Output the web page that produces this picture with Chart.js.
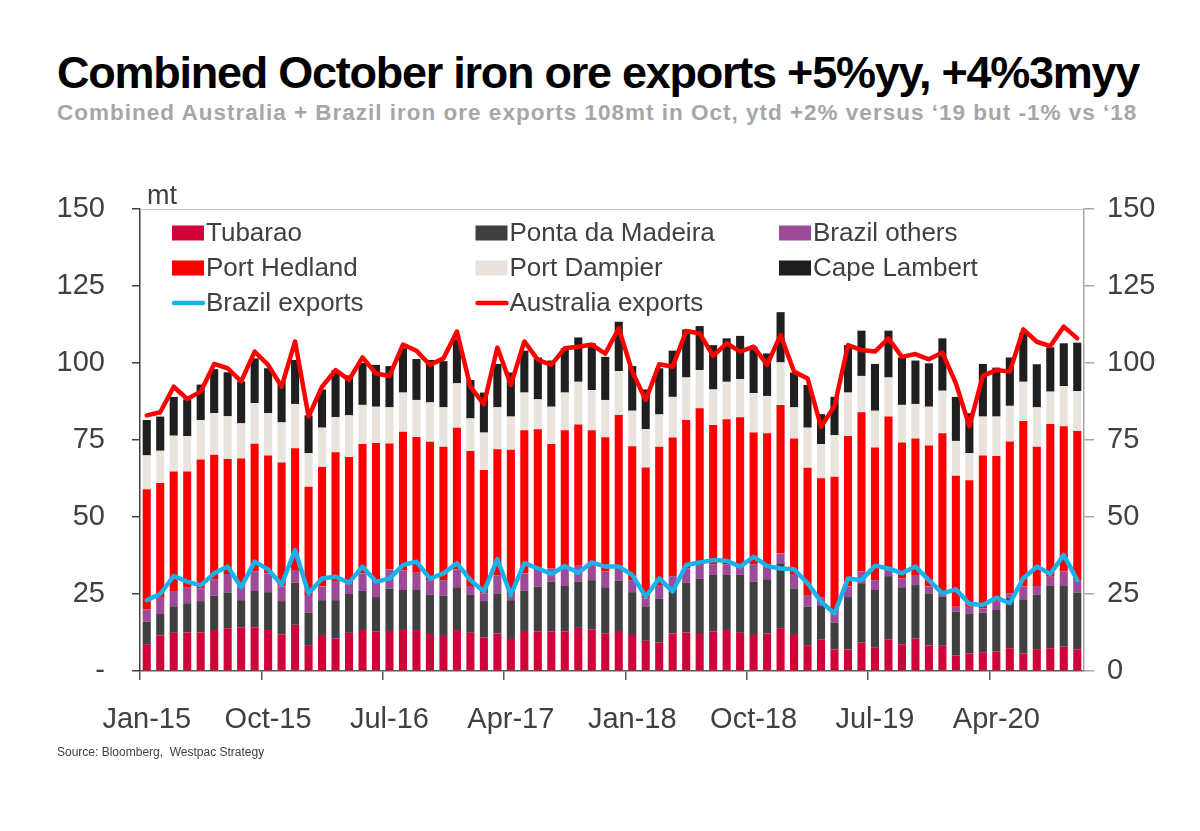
<!DOCTYPE html>
<html>
<head>
<meta charset="utf-8">
<script src="https://cdn.jsdelivr.net/npm/chart.js@4.4.1/dist/chart.umd.min.js"></script>
<style>
  body { margin: 0; background: #fff; }
  #wrap { position: relative; width: 1200px; height: 831px; overflow: hidden; font-family: "Liberation Sans", Arial, sans-serif; }
  #title { position: absolute; left: 57px; top: 50px; font-size: 45px; line-height: 45px; font-weight: bold; color: #000; white-space: nowrap; letter-spacing: -1.25px; }
  #subtitle { position: absolute; left: 57px; top: 102px; font-size: 22.5px; line-height: 22px; font-weight: bold; color: #a6a6a6; white-space: nowrap; letter-spacing: 1px; }
  #unit { position: absolute; left: 147px; top: 182px; font-size: 27px; line-height: 27px; color: #404040; }
  #source { position: absolute; left: 57px; top: 745px; font-size: 12px; line-height: 14px; color: #404040; white-space: nowrap; }
  #chart { position: absolute; left: 0; top: 0; }
</style>
</head>
<body>
<div id="wrap">
  <div id="title">Combined October iron ore exports +5%yy, +4%3myy</div>
  <div id="subtitle">Combined Australia + Brazil iron ore exports 108mt in Oct, ytd +2% versus ‘19 but -1% vs ‘18</div>
  <canvas id="chart" width="1200" height="831"></canvas>
  <div id="unit">mt</div>
  <div id="source">Source: Bloomberg,&nbsp; Westpac Strategy</div>
</div>
<script>
// monthly, Jan-15 .. Oct-20
var months = ['Jan-15','Feb-15','Mar-15','Apr-15','May-15','Jun-15','Jul-15','Aug-15','Sep-15','Oct-15','Nov-15','Dec-15',
  'Jan-16','Feb-16','Mar-16','Apr-16','May-16','Jun-16','Jul-16','Aug-16','Sep-16','Oct-16','Nov-16','Dec-16',
  'Jan-17','Feb-17','Mar-17','Apr-17','May-17','Jun-17','Jul-17','Aug-17','Sep-17','Oct-17','Nov-17','Dec-17',
  'Jan-18','Feb-18','Mar-18','Apr-18','May-18','Jun-18','Jul-18','Aug-18','Sep-18','Oct-18','Nov-18','Dec-18',
  'Jan-19','Feb-19','Mar-19','Apr-19','May-19','Jun-19','Jul-19','Aug-19','Sep-19','Oct-19','Nov-19','Dec-19',
  'Jan-20','Feb-20','Mar-20','Apr-20','May-20','Jun-20','Jul-20','Aug-20','Sep-20','Oct-20'];

// mt, stacked bars
var tubarao = [8.7,11.5,12.4,12.5,12.5,13.3,13.9,14.2,14.2,13.3, 11.9,15,8.4,11.7,10.6,12.4,13.3,12.8,13,13.3,
  13.3,12,11.7,13.3,12.4,10.9,12.2,10.4,13,12.8, 12.8,12.8,14,13.5,12.2,13,11.7,9.8,9.2,12.2,
  12.5,12,12.8,13.3,12.4,11.7,12.2,13.9,11.7,8.4, 10.3,7,7,9.2,7.7,10.3,8.7,10.6,8.3,8.2,
  5,5.7,6.1,6.3,7.4,5.7,7.1,7.4,7.9,7];
var pontaDaMadeira = [7.3,7,8.6,9.5,10.2,11.2,11.6,8.8,11.8,12.3, 10.8,13.7,10.6,11.3,12.4,12.6,12.7,11.2,13.8,13,
  13,12.7,12.7,13.9,12.3,11.8,13,12.6,13,14.6, 16.2,14.8,15,16,15,16.3,13.9,11.2,14.2,15.2,
  16.2,17.9,18.4,17.9,18.8,17.3,17.6,21.1,15.1,12.5, 10.8,8.7,17,19.3,18.6,20.5,18.5,17.3,16.9,15.9,
  14.3,13,12.8,13.5,16.4,17.6,17.6,20.2,19.7,18.4];
var brazilOthers = [4,5.3,5,5,4.1,5.3,6,4.4,6.3,6.1, 4.7,4.1,5.7,4.4,6,3.5,5.7,5.8,6.2,6.3,
  5.6,4.8,5.1,5.8,2.9,2.5,5.8,1.7,5.7,5.4, 4.3,6.3,5.4,4.9,5.1,4.9,3.9,2.6,4.5,3.4,
  4.6,4.5,3.4,3.4,2.7,5.7,4.1,3.2,4.7,3.8, 2.7,3,3.4,3.8,3.2,2.2,2.9,3.3,2.2,1.1,
  1.6,2.2,1.4,2.7,1.4,4.1,2.9,3,4.7,4.1];
var portHedland = [39,37.2,38.8,37.8,41.9,40.4,37.3,41.6,41.5,38.3, 40.3,39.5,35.1,38.8,42,41,42,44.2,40.9,45.1,
  44.1,44.9,43.3,46,43.8,40.1,41,47.1,46.5,45.7, 40.4,44.3,45.6,43.8,43.6,48.9,43.5,42.5,44.9,45,
  48.2,50.9,45.3,47.1,48.5,42.7,43.3,48.2,44,41.3, 38.8,44.4,48.9,51.7,43.1,49.6,44.1,44.3,45.8,52,
  42.5,41,49.7,47.3,49.3,53.8,45.2,49.6,47.2,48.4];
var portDampier = [11,10.5,11.6,11.5,12.8,13.5,13.9,11.4,13.2,13.7, 13,14.4,10.9,12.8,11.4,13.5,12.7,11.8,11.7,12.7,
  12,12.8,12.8,14.4,10.6,12.1,13.6,10.8,12.2,9.7, 12.1,12.2,13.9,13,12.1,14.3,11.5,12.4,10.5,13.2,
  13.8,12.4,11.5,12.2,12.4,12.8,12.1,13.8,10.1,13, 11.1,13.5,14.1,11.8,11.9,12.7,12.2,11.2,12.6,13.8,
  11.3,8.8,12.6,12.8,11.6,12.7,12.8,10.5,13,13];
var capeLambert = [11.5,11.1,12.6,11.9,11.5,14.3,14.3,13.6,14.5,14.6, 13.3,14.3,12.3,12.4,15.3,13,13.6,13.6,13.4,14.4,
  13.3,13.8,15,14.3,12.5,13,14.1,14.3,13.6,13.6, 15,14.4,14.4,15.2,14,16,14.5,12.9,15,15,
  15.6,14.3,14.4,14.1,14,15.1,13.8,16.3,11.3,13.9, 9.7,12.4,15.4,14.7,15.2,15.2,15.4,14.1,14.1,17,
  14.3,13,17.1,15.9,15.7,15.9,14,14.4,13.9,15.7];

// mt, lines
var brazilExports = [23,25,30.8,29,27.8,31.7,33.9,27.2,35.5,33, 28,39.3,25.2,30,30.6,28.7,33.9,29,30,34.4,
  35.5,30,31.7,35,29.5,25.8,36.3,24.7,35,33.3, 31.5,34.1,31.9,35.3,33.9,33.9,31.2,24.1,30.1,25.8,
  34.4,35.2,36,35.8,33.9,37.1,34.1,33.3,33,28.5, 22.5,18.7,30,29.5,34.2,33.3,31.7,33.9,29.5,25.2,
  26.5,21.8,21.4,23.8,22,30.1,33.9,31.5,37.7,29.5];
var australiaExports = [83,84,92.3,88.3,90.7,99.7,98.3,94,103.7,99.4, 92.3,107,82.6,92.3,97.7,94.5,101.8,96.6,95.8,106,
  104,99.4,101.5,110.2,92.3,86.6,105,92.9,107,101, 99.4,104.8,105.3,106,103,111.3,97.2,88,99.6,98.8,
  110.4,109.6,102.3,106.4,103.7,105.3,99.4,109.1,97.2,95, 79.3,86,105.8,104.2,103.7,108,102,102.9,101.2,103.4,
  93.4,79.5,95.8,97.7,97.2,110.9,106.9,105.5,111.8,108];

var yTicks = [0, 25, 50, 75, 100, 125, 150];
var labelEvery = 9;

var FONT = '"Liberation Sans", Arial, sans-serif';
var TXT = '#404040';

function bar(label, data, color) {
  return { type: 'bar', label: label, data: data, backgroundColor: color, borderWidth: 0,
    barPercentage: 0.6, categoryPercentage: 1.0, order: 2, yAxisID: 'y' };
}
function line(label, data, color, order) {
  return { type: 'line', label: label, data: data, borderColor: color, backgroundColor: color,
    borderWidth: 4.5, pointRadius: 0, tension: 0, borderJoinStyle: 'round', borderCapStyle: 'round',
    order: order, yAxisID: 'yl' };
}

// legend in 3 columns inside the plot area
var gridLegend = {
  id: 'gridLegend',
  afterDraw: function (chart) {
    var ctx = chart.ctx, area = chart.chartArea;
    ctx.save();
    // light top border of plot area
    ctx.strokeStyle = '#c8c8c8';
    ctx.lineWidth = 1;
    ctx.beginPath();
    ctx.moveTo(area.left, area.top + 0.5);
    ctx.lineTo(area.right, area.top + 0.5);
    ctx.stroke();

    ctx.font = '26px ' + FONT;
    ctx.textBaseline = 'middle';
    chart.data.datasets.forEach(function (ds, i) {
      var col = i % 3, row = Math.floor(i / 3);
      var x = area.left + 32 + col * 303.5;
      var y = area.top + 24 + row * 35;
      if (ds.type === 'line') {
        ctx.strokeStyle = ds.borderColor;
        ctx.lineWidth = 4.5;
        ctx.lineCap = 'round';
        ctx.beginPath();
        ctx.moveTo(x + 2, y);
        ctx.lineTo(x + 31, y);
        ctx.stroke();
      } else {
        ctx.fillStyle = ds.backgroundColor;
        ctx.fillRect(x, y - 7.5, 32, 15);
      }
      ctx.fillStyle = TXT;
      ctx.fillText(ds.label, x + 34, y + 1);
    });
    ctx.restore();
  }
};

var tickShown = function (c) { return c.index % labelEvery === 0 ? '#595959' : 'rgba(0,0,0,0)'; };

new Chart(document.getElementById('chart'), {
  data: {
    labels: months,
    datasets: [
      bar('Tubarao', tubarao, '#D0023A'),
      bar('Ponta da Madeira', pontaDaMadeira, '#404040'),
      bar('Brazil others', brazilOthers, '#9E4A98'),
      bar('Port Hedland', portHedland, '#FF0000'),
      bar('Port Dampier', portDampier, '#E9E3DD'),
      bar('Cape Lambert', capeLambert, '#1F1F1F'),
      line('Brazil exports', brazilExports, '#19B1EA', 0),
      line('Australia exports', australiaExports, '#FF0000', 1)
    ]
  },
  options: {
    responsive: false,
    animation: false,
    devicePixelRatio: 1,
    layout: { padding: { left: 0, right: 0, top: 209, bottom: 91 } },
    plugins: { legend: { display: false }, tooltip: { enabled: false } },
    scales: {
      x: {
        stacked: true,
        offset: true,
        grid: { offset: true, drawOnChartArea: false, drawTicks: true, tickLength: 9, lineWidth: 1.5,
          color: tickShown, tickColor: tickShown },
        border: { color: '#595959', width: 1.5 },
        ticks: {
          autoSkip: false, maxRotation: 0, padding: 23, color: TXT,
          font: { family: FONT, size: 29 },
          callback: function (v, i) { return i % labelEvery === 0 ? months[i] : ''; }
        },
        afterFit: function (s) { s.height = 69; }
      },
      y: {
        position: 'left', stacked: true, min: 0, max: 150,
        afterBuildTicks: function (s) { s.ticks = yTicks.map(function (v) { return { value: v }; }); },
        grid: { drawOnChartArea: false, tickLength: 8, color: '#404040', lineWidth: 1.5 },
        border: { color: '#404040', width: 1.5 },
        ticks: { color: TXT, padding: 27, font: { family: FONT, size: 29 },
          callback: function (v) { return v === 0 ? '-' : v; } },
        afterFit: function (s) { s.width = 140; }
      },
      y2: {
        position: 'right', min: 0, max: 150,
        afterBuildTicks: function (s) { s.ticks = yTicks.map(function (v) { return { value: v }; }); },
        grid: { drawOnChartArea: false, tickLength: 10, color: '#a6a6a6', lineWidth: 1.5 },
        border: { color: '#a6a6a6', width: 1.5 },
        ticks: { color: TXT, padding: 13, font: { family: FONT, size: 29 } },
        afterFit: function (s) { s.width = 116; }
      },
      yl: { display: false, min: 0, max: 150, stacked: false }
    }
  },
  plugins: [gridLegend]
});
</script>
</body>
</html>
